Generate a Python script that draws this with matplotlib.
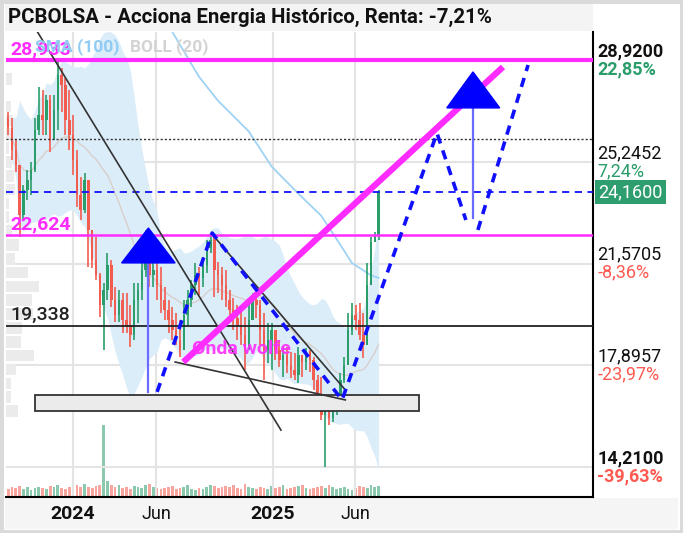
import numpy as np
import pandas as pd
import matplotlib
matplotlib.use('Agg')
import matplotlib.pyplot as plt
import matplotlib.dates as mdates
from matplotlib.patches import Polygon, Rectangle

# velas semanales
fechas = pd.date_range('2023-09-04', periods=98, freq='7D')
apertura_ini = 26.84
cierre = [26.47, 25.68, 25.14, 23.33, 24.23, 24.60, 24.96, 26.40, 26.94, 26.76,
          27.49, 26.04, 27.12, 28.39, 28.03, 26.76, 26.22, 25.32, 24.05, 23.51,
          24.60, 22.79, 21.70, 21.16, 20.08, 20.62, 21.52, 20.26, 19.72, 20.26,
          19.54, 19.36, 18.99, 20.26, 20.62, 21.34, 22.25, 21.16, 21.34, 20.80,
          20.26, 19.90, 19.54, 19.18, 18.81, 18.45, 19.72, 20.26, 20.80, 21.16,
          21.06, 21.52, 22.14, 22.43, 21.34, 21.16, 20.80, 20.26, 19.90, 19.61,
          19.36, 18.99, 18.45, 19.54, 20.26, 20.08, 19.18, 18.45, 18.81, 19.18,
          18.45, 18.09, 18.27, 17.91, 17.73, 17.55, 18.27, 18.02, 18.38, 18.09,
          17.37, 16.65, 16.11, 16.29, 16.00, 16.47, 16.72, 17.37, 17.91, 19.18,
          19.72, 19.54, 18.99, 18.63, 20.80, 22.36, 22.57, 24.16]
maximo = [27.05, 26.84, 26.04, 25.14, 24.42, 24.96, 25.25, 26.84, 27.95, 27.85,
          27.67, 27.67, 27.67, 28.92, 28.64, 28.28, 27.85, 26.94, 25.68, 24.70,
          24.85, 24.60, 22.79, 22.54, 21.24, 20.87, 21.96, 21.70, 20.73, 20.62,
          20.51, 20.51, 20.08, 20.87, 20.87, 21.60, 22.79, 22.43, 21.70, 21.60,
          21.45, 20.73, 20.26, 20.01, 19.79, 19.54, 20.26, 20.62, 20.98, 21.60,
          21.45, 21.81, 22.43, 22.68, 22.57, 21.63, 21.45, 21.34, 20.62, 20.33,
          20.08, 19.90, 19.65, 20.08, 20.51, 20.44, 20.26, 19.79, 19.43, 19.43,
          19.18, 18.81, 18.56, 18.56, 18.38, 18.35, 18.56, 18.27, 18.53, 18.45,
          18.20, 17.55, 17.48, 16.54, 16.65, 16.76, 16.83, 17.62, 18.20, 19.79,
          20.15, 20.08, 20.15, 19.79, 21.60, 22.54, 22.72, 24.23]
minimo = [26.22, 25.32, 24.88, 22.54, 23.15, 23.87, 24.05, 24.88, 26.22, 26.22,
          26.22, 25.61, 26.04, 26.40, 27.05, 26.22, 25.68, 24.78, 23.62, 23.15,
          23.40, 21.45, 21.42, 20.98, 19.65, 18.45, 20.26, 20.01, 19.47, 19.47,
          19.07, 19.07, 18.56, 18.81, 19.43, 20.26, 21.09, 20.73, 20.73, 20.26,
          19.79, 19.54, 19.07, 18.81, 18.63, 18.20, 18.81, 19.36, 20.01, 20.44,
          20.44, 20.73, 21.24, 21.96, 20.37, 20.51, 20.26, 20.01, 19.54, 19.18,
          18.81, 18.63, 17.73, 18.81, 19.65, 19.61, 18.63, 17.37, 17.98, 17.73,
          18.09, 17.84, 17.48, 17.62, 17.44, 17.37, 17.26, 17.48, 17.73, 17.66,
          17.01, 16.29, 15.93, 14.21, 15.74, 15.85, 16.11, 16.54, 17.26, 17.98,
          18.99, 19.18, 18.81, 18.16, 19.29, 21.45, 22.36, 22.43]
volumen = [8, 10, 9, 11, 8, 10, 7, 9, 10, 9, 8, 11, 10, 12, 9, 8, 10,
           11, 12, 10, 13, 10, 9, 11, 12, 72, 16, 12, 10, 12, 9, 10, 8,
           11, 10, 9, 12, 13, 10, 9, 8, 9, 10, 11, 8, 9, 10, 12, 8,
           7, 9, 8, 10, 12, 11, 9, 10, 11, 10, 12, 9, 8, 13, 10, 9,
           8, 10, 9, 8, 11, 9, 10, 12, 8, 9, 10, 11, 12, 9, 8, 9,
           10, 11, 9, 12, 10, 8, 9, 10, 8, 7, 9, 11, 10, 9, 12, 10, 11]

# SMA(100)
sma_fechas = ['2024-05-27', '2024-07-01', '2024-08-19', '2024-09-23', '2024-11-18',
              '2024-12-30', '2025-02-17', '2025-03-31', '2025-05-05', '2025-05-26',
              '2025-06-30', '2025-07-14']
sma_valores = [31.0, 29.94, 28.32, 27.45, 26.35, 25.08, 24.10, 23.30, 22.25, 21.60,
               21.15, 21.06]

# niveles horizontales
nivel_max = 28.933
nivel_sup = 22.624
nivel_inf = 19.338
nivel_punteado = 26.08
ultimo = 24.16

# etiquetas del eje de precios
eje_precios = [28.92, 25.2452, 21.5705, 17.8957, 14.21]
eje_pct = ['22,85%', '7,24%', '-8,36%', '-23,97%', '-39,63%']
eje_negrita = [True, False, False, False, True]

# dibujos (fecha, precio)
tendencia_a = [('2023-10-12', 30.45), ('2025-01-16', 15.56)]
tendencia_b = [('2024-09-13', 22.61), ('2025-05-14', 17.01)]
tendencia_c = [('2024-07-06', 18.02), ('2025-05-14', 16.65)]
linea_rosa = [('2024-07-21', 18.02), ('2026-02-27', 28.68)]
onda_1 = [('2024-06-03', 16.94), ('2024-09-12', 22.68), ('2025-05-08', 16.65),
          ('2025-10-29', 26.29), ('2025-12-21', 23.15)]
onda_2 = [('2026-01-12', 22.79), ('2026-04-14', 28.75)]
flecha_1 = dict(punta=('2024-05-18', 22.86), izq='2024-03-30', der='2024-07-06',
                base=21.60, fin=16.94)
flecha_2 = dict(punta=('2026-01-03', 28.50), izq='2025-11-16', der='2026-02-21',
                base=27.20, fin=23.22)
caja = [('2023-10-24', 16.25), ('2025-09-26', 16.83)]
texto_onda = ('2024-08-06', 18.49)

fechas_ticks = ['2024-01-01', '2024-06-01', '2025-01-01', '2025-06-01']
etiquetas_ticks = ['2024', 'Jun', '2025', 'Jun']

verde = '#2a9d6b'
rojo = '#f25c4f'
rosa = '#ff2bff'
azul = '#1010ff'

def d(s):
    return mdates.date2num(pd.Timestamp(s))

plt.rcParams['font.family'] = ['Roboto', 'DejaVu Sans']

fig = plt.figure(figsize=(6.83, 5.33), dpi=100)
W, H = 683, 533

# bandas grises de título y eje
fig.patches.append(Rectangle((5 / W, 1 - 31 / H), 588 / W, 27 / H, transform=fig.transFigure,
                             fc='#f4f4f4', ec='none', zorder=0))
fig.patches.append(Rectangle((5 / W, 4 / H), 673 / W, 31 / H, transform=fig.transFigure,
                             fc='#f5f5f5', ec='none', zorder=0))
fig.patches.append(Rectangle((0, 0), 1, 1, transform=fig.transFigure, fill=False,
                             ec='#dadada', lw=5, zorder=5))

ax = fig.add_axes([6 / W, 36 / H, 587 / W, 465 / H])
ax.set_xlim(d('2023-08-31'), d('2026-08-11'))
ax.set_ylim(13.143, 29.942)

x = mdates.date2num(fechas)
apertura = [apertura_ini] + cierre[:-1]
colores = [verde if c >= o else rojo for o, c in zip(apertura, cierre)]

# volumen (eje secundario)
axv = ax.twinx()
axv.set_ylim(0, max(volumen) * 6.45)
axv.bar(x, volumen, width=5, color=colores, alpha=0.55, zorder=1)
axv.set_yticks([])
for s in axv.spines.values():
    s.set_visible(False)
ax.set_zorder(axv.get_zorder() + 1)
ax.patch.set_visible(False)

# perfil de volumen
hist, bordes = np.histogram(cierre, bins=np.arange(13.5, 29.6, 0.5), weights=volumen)
centros = (bordes[:-1] + bordes[1:]) / 2
ax.barh(centros, hist / hist.max() * 60, height=0.42, left=ax.get_xlim()[0],
        color='#ebebeb', zorder=0.5)

# bollinger (20)
serie = pd.Series(cierre)
media = serie.rolling(20, min_periods=2).mean()
desv = serie.rolling(20, min_periods=2).std(ddof=0)
ax.fill_between(x, media - 2 * desv, media + 2 * desv, color='#dcedfa', lw=0, zorder=0.6)
ax.plot(x, media, color='#d8cfcb', lw=1, zorder=0.7)

# SMA(100)
ax.plot([d(f) for f in sma_fechas], sma_valores, color='#9fd2f3', lw=1.3, zorder=0.8)

# rejilla
for p in eje_precios:
    ax.axhline(p, color='#e4e4e4', lw=1.5, zorder=0.4)
for f in fechas_ticks:
    ax.axvline(d(f), color='#e4e4e4', lw=1.5, zorder=0.4)

# velas
for xi, o, c, hi, lo, col in zip(x, apertura, cierre, maximo, minimo, colores):
    ax.vlines(xi, min(lo, o, c), max(hi, o, c), color=col, lw=1.2, zorder=2)
    ax.bar(xi, max(abs(c - o), 0.04), bottom=min(o, c), width=4.6, color=col, zorder=2)

# niveles
ax.axhline(nivel_max, color=rosa, lw=3, zorder=3)
ax.axhline(nivel_sup, color=rosa, lw=1.8, zorder=3)
ax.axhline(nivel_inf, color='#222222', lw=1.3, zorder=3)
ax.axhline(nivel_punteado, color='#333333', lw=1, ls=(0, (1.5, 1.5)), zorder=3)
ax.axhline(ultimo, color=azul, lw=1.3, ls=(0, (4, 3)), zorder=3)

def etiqueta_nivel(valor, texto, color, peso):
    ax.annotate(texto, xy=(0, valor), xycoords=('axes fraction', 'data'),
                xytext=(3, 1), textcoords='offset points', ha='left', va='bottom',
                fontsize=14, color=color, fontweight=peso, zorder=6)

etiqueta_nivel(nivel_max, '28,933', rosa, 'bold')
etiqueta_nivel(nivel_sup, '22,624', rosa, 'bold')
etiqueta_nivel(nivel_inf, '19,338', '#222222', 'medium')

# caja gris
ax.add_patch(Rectangle((d(caja[0][0]), caja[0][1]), d(caja[1][0]) - d(caja[0][0]),
                       caja[1][1] - caja[0][1], fc='#ebebeb', ec='#333333', lw=1.3, zorder=3))

# líneas de tendencia
for t in [tendencia_a, tendencia_b, tendencia_c]:
    ax.plot([d(p[0]) for p in t], [p[1] for p in t], color='#333333', lw=1.2, zorder=4)

ax.plot([d(p[0]) for p in linea_rosa], [p[1] for p in linea_rosa], color=rosa, lw=4.5,
        solid_capstyle='butt', zorder=4)

for o in [onda_1, onda_2]:
    ax.plot([d(p[0]) for p in o], [p[1] for p in o], color=azul, lw=2.6,
            ls=(0, (2.6, 2.0)), zorder=4)

for fl in [flecha_1, flecha_2]:
    xp = d(fl['punta'][0])
    ax.plot([xp, xp], [fl['base'], fl['fin']], color='#6b6bff', lw=1.6, zorder=4)
    ax.add_patch(Polygon([(d(fl['izq']), fl['base']), (xp, fl['punta'][1]),
                          (d(fl['der']), fl['base'])], closed=True, fc='#0000ff',
                         ec='#0000ff', zorder=5))

ax.text(d(texto_onda[0]), texto_onda[1], 'Onda wolfe', color=rosa, fontsize=14,
        fontweight='bold', ha='left', va='center', zorder=5, alpha=0.9)

# leyenda de indicadores
ax.text(0.049, 0.968, 'SMA (100)', transform=ax.transAxes, color='#8fcbf3',
        fontsize=12.5, fontweight='bold', va='center', ha='left', zorder=7)
ax.text(0.212, 0.968, 'BOLL (20)', transform=ax.transAxes, color='#d3d3d3',
        fontsize=12.5, fontweight='bold', va='center', ha='left', zorder=7)

# eje de precios a la derecha
for p, pct, neg in zip(eje_precios, eje_pct, eje_negrita):
    peso = 'bold' if neg else 'normal'
    col_pct = verde if not pct.startswith('-') else '#ff5a52'
    ax.annotate(f'{p:.4f}'.replace('.', ','), xy=(1, p), xycoords=('axes fraction', 'data'),
                xytext=(3, 6.5), textcoords='offset points', ha='left', va='center',
                fontsize=13, fontweight=peso, color='#111111', annotation_clip=False)
    ax.annotate(pct, xy=(1, p), xycoords=('axes fraction', 'data'),
                xytext=(3, -6.5), textcoords='offset points', ha='left', va='center',
                fontsize=13, fontweight=peso, color=col_pct, annotation_clip=False)

ax.annotate(f'{ultimo:.4f}'.replace('.', ','), xy=(1, ultimo),
            xycoords=('axes fraction', 'data'), xytext=(4, 0), textcoords='offset points',
            ha='left', va='center', fontsize=13, color='white', annotation_clip=False,
            bbox=dict(boxstyle='square,pad=0.18', fc='#2e9e6e', ec='none'))

# eje x
ax.set_xticks([d(f) for f in fechas_ticks])
ax.set_xticklabels(etiquetas_ticks)
for lbl, txt in zip(ax.get_xticklabels(), etiquetas_ticks):
    if txt.isdigit():
        lbl.set_fontweight('bold')
        lbl.set_fontsize(14)
    else:
        lbl.set_fontsize(13)
ax.tick_params(axis='x', length=0, pad=6, colors='#111111')
ax.set_yticks([])
ax.spines['left'].set_visible(False)
ax.spines['top'].set_visible(False)
ax.spines['right'].set_linewidth(1.5)
ax.spines['bottom'].set_linewidth(1.5)

fig.text(8 / W, 1 - 17 / H, 'PCBOLSA - Acciona Energia Histórico, Renta: -7,21%',
         fontsize=14.7, fontweight='bold', va='center', ha='left', color='#111111')

fig.savefig('out.png', dpi=100)
